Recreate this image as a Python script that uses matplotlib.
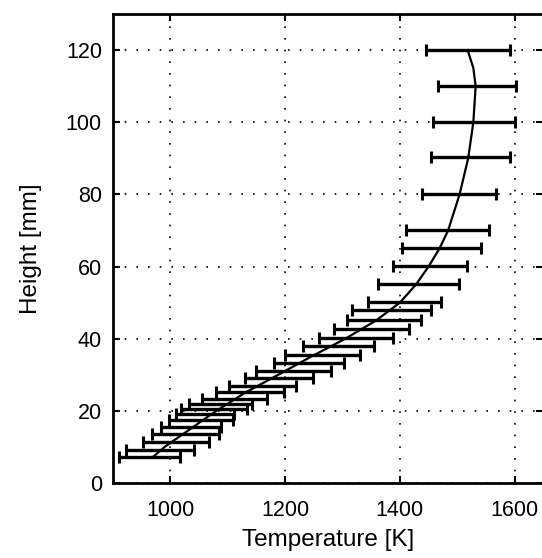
import matplotlib
matplotlib.use("Agg")
import matplotlib.pyplot as plt

plt.rcParams['font.family'] = ['Liberation Sans', 'DejaVu Sans']

# error bar data: height [mm], lower / upper temperature [K]
heights = [7.3, 9.2, 11.3, 13.6, 15.6, 17.6, 19.0, 20.4, 21.8, 23.3, 25.3, 27.0,
           29.0, 31.1, 33.3, 35.6, 37.9, 40.3, 42.6, 45.3, 47.9, 50.1, 55.1,
           60.2, 65.2, 70.2, 80.1, 90.3, 100.0, 110.0, 120.0]
t_low = [910, 922, 953, 968, 984, 998, 1010, 1018, 1032, 1055, 1079, 1103,
         1130, 1149, 1180, 1200, 1231, 1259, 1285, 1307, 1317, 1345, 1361,
         1388, 1404, 1411, 1439, 1455, 1458, 1466, 1445]
t_high = [1016, 1041, 1067, 1084, 1088, 1109, 1111, 1133, 1143, 1169, 1198, 1219,
          1248, 1280, 1303, 1330, 1354, 1388, 1416, 1436, 1455, 1471, 1503,
          1517, 1542, 1556, 1568, 1591, 1600, 1603, 1591]

# model curve
curve_h = [7, 10, 15, 20, 25, 30, 35, 40, 45, 50, 55, 60, 65, 70, 80, 90, 100, 110, 115, 120]
curve_t = [968, 990, 1035, 1080, 1130, 1188, 1245, 1305, 1358, 1400, 1428, 1450,
           1469, 1484, 1504, 1519, 1528, 1532, 1528, 1518]

fig = plt.figure(figsize=(5.42, 5.58), dpi=100)
ax = fig.add_axes([0.2085, 0.1344, 0.794, 0.8406])

# error bars drawn as horizontal segments with caps
mid = [(a + b) / 2 for a, b in zip(t_low, t_high)]
half = [(b - a) / 2 for a, b in zip(t_low, t_high)]
ax.errorbar(mid, heights, xerr=half, fmt='none', ecolor='black',
            elinewidth=2.4, capsize=4, capthick=2.2)
ax.plot(curve_t, curve_h, color='black', lw=1.6)

ax.set_xlim(900, 1650)
ax.set_ylim(0, 130)
ax.set_xticks([1000, 1200, 1400, 1600])
ax.set_yticks([0, 20, 40, 60, 80, 100, 120])
ax.grid(True, color='black', linestyle=(0, (1, 6)), linewidth=1.2)

for s in ax.spines.values():
    s.set_linewidth(2)
ax.tick_params(direction='in', length=5, width=1.5, top=True, right=True,
               labelsize=15.5, pad=8)
ax.tick_params(axis='x', pad=12)
ax.set_xlabel('Temperature [K]', fontsize=17.5, labelpad=6)
ax.set_ylabel('Height [mm]', fontsize=17.5, labelpad=17)

fig.savefig('out.png', dpi=100)
